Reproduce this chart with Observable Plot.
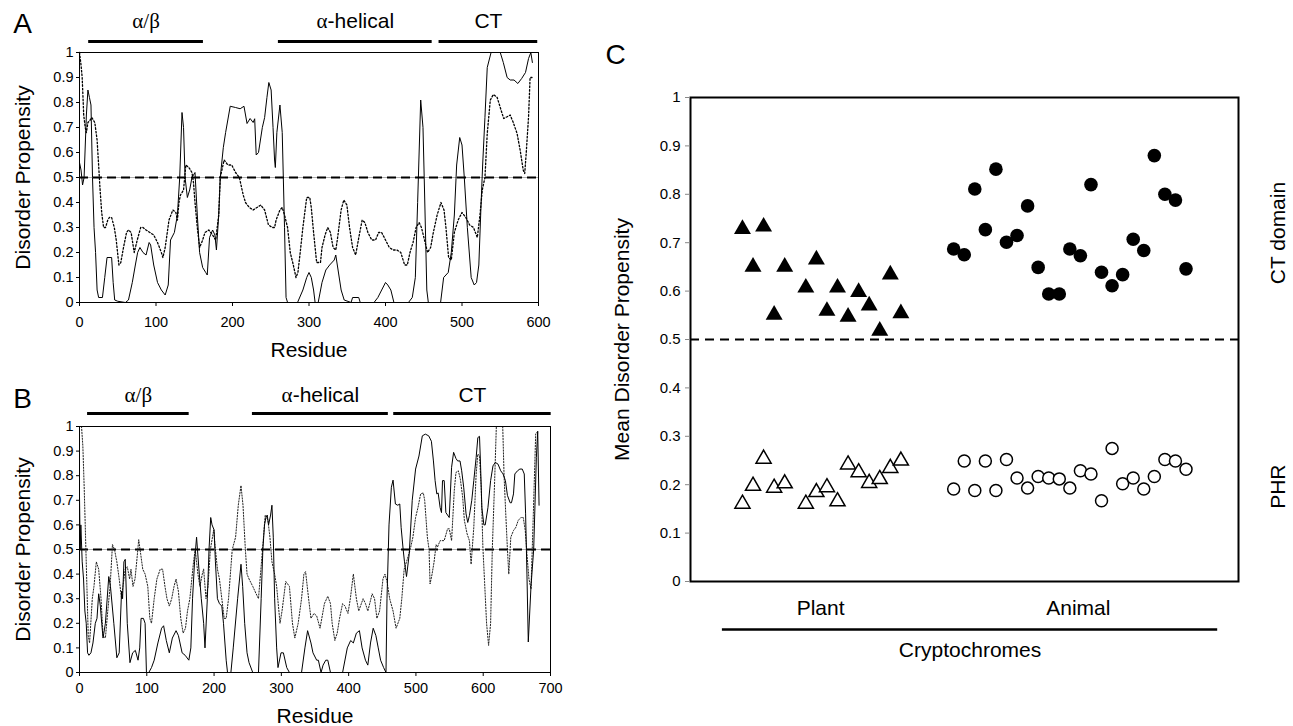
<!DOCTYPE html>
<html><head><meta charset="utf-8">
<script src="https://cdn.jsdelivr.net/npm/d3@7"></script>
<script src="https://cdn.jsdelivr.net/npm/@observablehq/plot@0.6"></script>
<style>
body{margin:0;background:#fff;}
#chart{position:relative;width:1293px;height:726px;overflow:hidden;background:#fff;}
#chart svg{position:absolute;}
</style></head><body><div id="chart"></div>
<script>
// ---------- Panel A data: [residue, disorder propensity] ----------
const aSolid = [[0,0.56],[2,0.53],[4,0.47],[6,0.5],[9,0.75],[11,0.85],[13,0.82],[15,0.79],[17,0.5],[19,0.3],[21,0.2],[23,0.05],[25,0.02],[30,0.02],[33,0.1],[36,0.18],[42,0.18],[44,0.08],[46,0.01],[50,0.005],[60,0],[64,0.01],[69,0.08],[73,0.15],[76,0.2],[79,0.22],[83,0.2],[87,0.19],[91,0.24],[93,0.23],[97,0.15],[102,0.08],[107,0.05],[112,0.03],[116,0.07],[119,0.25],[124,0.28],[128,0.35],[131,0.5],[134,0.76],[136,0.7],[138,0.5],[141,0.42],[144,0.45],[147,0.5],[151,0.52],[154,0.35],[157,0.2],[161,0.14],[165,0.12],[167,0.11],[170,0.26],[174,0.29],[177,0.27],[179,0.21],[182,0.35],[184,0.5],[188,0.62],[191,0.68],[197,0.785],[204,0.78],[210,0.775],[215,0.785],[219,0.716],[223,0.736],[227,0.72],[229,0.735],[231,0.59],[234,0.6],[239,0.7],[242,0.74],[245,0.82],[247.5,0.88],[250.5,0.85],[253,0.7],[255,0.57],[256,0.54],[258,0.68],[262,0.79],[265,0.68],[268,0.3],[270,0.02],[272,0],[285,0],[292,0.05],[297,0.1],[300,0.12],[303,0.1],[306,0.05],[308,0],[312,0],[317,0.08],[322,0.13],[327,0.15],[333,0.17],[335,0.19],[337,0.15],[342,0.05],[346,0.01],[355,0],[357,0.02],[365,0.02],[367,0],[385,0],[390,0.02],[395,0.05],[400,0.08],[403,0.07],[407,0.05],[411,0],[430,0],[435,0.02],[439,0.1],[442,0.4],[446,0.81],[449,0.7],[451,0.45],[454,0.05],[456,0],[472,0],[476,0.1],[482,0.12],[486,0.2],[490,0.35],[493,0.55],[497,0.66],[500,0.63],[503,0.5],[507,0.3],[512,0.1],[516,0.07],[519,0.08],[522,0.15],[525,0.4],[527,0.55],[530,0.74],[533,0.94],[538,1.0],[550,1.0],[554,0.96],[559,0.9],[563,0.89],[568,0.89],[573,0.876],[578,0.896],[583,0.92],[587,0.976],[590,1.0],[592,0.96]];
const aDotted = [[0,1.0],[2,0.95],[3.5,0.9],[5.5,0.75],[7.5,0.7],[9,0.68],[11,0.72],[14,0.73],[16,0.74],[20,0.72],[23,0.65],[25,0.55],[26.5,0.47],[29,0.36],[31.5,0.3],[34,0.3],[37,0.33],[39,0.34],[42,0.34],[45.5,0.3],[48,0.25],[51.5,0.15],[54,0.16],[57.5,0.22],[61.5,0.28],[64,0.29],[67.5,0.28],[71.5,0.2],[75.5,0.25],[80,0.3],[83,0.3],[87,0.29],[92,0.28],[97,0.27],[102,0.24],[107,0.2],[109,0.18],[112,0.22],[117,0.33],[122,0.37],[126,0.36],[128,0.33],[130,0.4],[132,0.43],[136,0.45],[139,0.55],[143,0.54],[147,0.52],[149,0.48],[151,0.4],[154,0.3],[157,0.22],[161,0.25],[164,0.28],[169,0.29],[174,0.27],[178,0.25],[182,0.35],[184,0.5],[189,0.57],[194,0.55],[199,0.55],[204,0.52],[209,0.5],[214,0.43],[217,0.4],[222,0.38],[227,0.37],[232,0.38],[237,0.39],[242,0.37],[247,0.31],[252,0.3],[255,0.3],[257,0.33],[262,0.37],[265,0.38],[268,0.35],[272,0.3],[275.5,0.2],[279.5,0.15],[283,0.1],[285.5,0.12],[288.5,0.2],[292,0.3],[297,0.42],[301,0.42],[303,0.38],[306,0.28],[310,0.16],[315,0.16],[317,0.22],[321,0.27],[324.5,0.3],[328,0.28],[331.5,0.22],[335,0.21],[337,0.25],[342,0.37],[345.5,0.41],[349.5,0.39],[353,0.3],[357,0.22],[361,0.19],[364.5,0.25],[369.5,0.33],[373,0.32],[377,0.28],[382,0.25],[387,0.25],[391,0.28],[395,0.28],[400,0.25],[405,0.22],[410,0.21],[415,0.21],[420,0.2],[425,0.15],[428.5,0.15],[432,0.2],[436,0.24],[440,0.3],[444,0.32],[447,0.3],[451,0.25],[455,0.2],[459,0.22],[462.5,0.28],[467.5,0.35],[472.5,0.4],[476.5,0.37],[479,0.3],[482.5,0.18],[486,0.17],[490,0.28],[495,0.33],[500,0.36],[505,0.34],[510,0.31],[515,0.3],[520,0.26],[523.5,0.35],[526.5,0.45],[530,0.5],[533,0.676],[537,0.81],[541,0.832],[546,0.82],[550,0.78],[554.5,0.736],[559,0.743],[563,0.75],[567.5,0.716],[572,0.676],[576,0.61],[580,0.53],[582,0.516],[584,0.6],[587,0.743],[589,0.9],[591.5,0.9]];

// ---------- Panel B data ----------
const bSolid = [[0,0.72],[1,0.5],[2,0.6],[4,0.45],[6,0.38],[8,0.25],[10,0.2],[12,0.08],[14,0.07],[17,0.08],[20,0.12],[23.5,0.2],[26,0.22],[28.5,0.32],[31,0.27],[33,0.2],[35,0.14],[38.5,0.2],[43.5,0.39],[46,0.35],[51,0.2],[55.5,0.06],[59,0.08],[62.5,0.33],[64,0.3],[66,0.45],[68,0.46],[71,0.2],[75,0.04],[79,0.08],[83,0.09],[87,0.05],[89.5,0.1],[91.5,0.22],[95,0.22],[97.5,0.2],[99.5,0],[103,0],[107,0.02],[111,0.05],[116.5,0.12],[122,0.18],[125,0.19],[129,0.13],[133.5,0.08],[138,0.14],[143.5,0.17],[147,0.15],[152.5,0.08],[157,0.07],[162.5,0.05],[165.5,0.1],[168,0.3],[171,0.45],[174,0.55],[177.5,0.42],[181,0.3],[184.5,0.2],[186.5,0.1],[190,0.3],[192.5,0.5],[195,0.63],[197,0.6],[200,0.58],[202,0.45],[205,0.3],[208,0.28],[211.5,0.27],[214,0.2],[218,0.05],[220,0],[225,0],[228.5,0.1],[235,0.3],[240,0.44],[242.5,0.35],[245.5,0.2],[249,0.08],[252,0.04],[257.5,0],[266,0],[270,0.3],[272.5,0.5],[275,0.6],[277,0.63],[279,0.64],[281,0.6],[284,0.64],[286,0.68],[288,0.55],[290,0.3],[293,0.1],[295,0.02],[299.5,0.08],[303,0.08],[308,0.02],[312,0],[330,0],[335,0.1],[339,0.17],[344,0.12],[347,0.08],[352.5,0.05],[355,0.05],[359,0],[362,0.03],[366,0.05],[369,0.05],[373,0],[391,0],[398,0.1],[403,0.13],[407,0.12],[411.5,0.16],[416,0.17],[420,0.1],[425,0.05],[428.5,0.03],[432.5,0.12],[436.5,0.18],[440.5,0.15],[444,0.1],[447.5,0.05],[452,0.02],[455.5,0],[457,0.3],[460,0.6],[463.5,0.753],[466,0.782],[469.5,0.685],[473,0.68],[476,0.685],[478,0.59],[481,0.5],[483,0.45],[486,0.39],[490,0.48],[494.5,0.7],[499.5,0.827],[504.5,0.88],[509.5,0.962],[514,0.969],[519,0.962],[523,0.94],[526,0.86],[528.5,0.78],[531,0.726],[533,0.73],[536,0.67],[538,0.65],[539.5,0.78],[542,0.78],[544.5,0.65],[549.5,0.63],[553,0.834],[556,0.895],[559.5,0.87],[562,0.86],[565.5,0.86],[568,0.82],[571,0.753],[574.5,0.645],[577,0.61],[579.5,0.638],[583,0.7],[586,0.78],[589.5,0.874],[592,0.955],[594.5,0.96],[596,0.847],[598,0.67],[601,0.6],[603,0.6],[607,0.67],[611,0.78],[614.5,0.84],[618,0.854],[622,0.847],[626,0.82],[629.5,0.807],[633,0.78],[636,0.72],[640,0.69],[642,0.69],[645,0.726],[647,0.807],[651,0.82],[654.5,0.827],[658,0.827],[661,0.807],[663,0.645],[665,0.4],[667,0.124],[671,0.35],[675,0.5],[679,0.874],[681,0.98],[683,0.68]];
const bDotted = [[3,1.0],[5,0.92],[7,0.75],[9,0.55],[11,0.35],[13,0.15],[15,0.12],[19,0.3],[21.5,0.35],[25,0.45],[28.5,0.42],[32,0.3],[35,0.15],[38.5,0.14],[42,0.25],[45.5,0.35],[49,0.52],[52,0.5],[55.5,0.45],[59,0.38],[62.5,0.3],[64.5,0.35],[68,0.42],[71,0.43],[74.5,0.38],[76.5,0.42],[79.5,0.35],[82.5,0.38],[85,0.45],[88,0.54],[91,0.48],[94,0.42],[97.5,0.4],[101.5,0.35],[104.5,0.22],[107,0.2],[111,0.3],[115,0.38],[120,0.42],[123.5,0.42],[127,0.35],[130,0.3],[133.5,0.27],[137,0.3],[140.5,0.35],[143.5,0.38],[147,0.33],[150.5,0.22],[154,0.16],[157.5,0.18],[160.5,0.25],[164,0.3],[169.5,0.45],[172,0.5],[176,0.4],[179,0.35],[182.5,0.4],[184.5,0.42],[188,0.3],[191,0.35],[194.5,0.5],[199.5,0.58],[202,0.5],[205,0.42],[208,0.38],[211.5,0.3],[215,0.22],[218,0.22],[221.5,0.3],[227,0.5],[232,0.55],[236,0.68],[240,0.76],[243,0.68],[246.5,0.5],[249,0.4],[252,0.38],[257.5,0.35],[262.5,0.32],[266,0.3],[269,0.4],[272,0.5],[276,0.64],[280,0.62],[283,0.55],[286,0.45],[290,0.4],[293,0.35],[298,0.2],[301,0.25],[306.5,0.37],[312,0.35],[316.5,0.2],[320,0.14],[325,0.2],[330,0.3],[333.5,0.4],[336,0.41],[340.5,0.3],[344,0.22],[348.5,0.24],[352.5,0.23],[357.5,0.18],[364,0.28],[369,0.31],[373,0.28],[375.5,0.2],[379.5,0.13],[383,0.16],[386.5,0.22],[391,0.28],[394.5,0.27],[399,0.24],[402.5,0.3],[407,0.4],[411.5,0.3],[415,0.25],[421.5,0.3],[425,0.28],[428.5,0.25],[435,0.32],[438.5,0.3],[442,0.22],[446,0.25],[451,0.38],[454,0.4],[457,0.37],[461,0.3],[466,0.25],[470.5,0.18],[476,0.22],[479,0.3],[482.5,0.42],[486,0.45],[491.5,0.5],[495.5,0.55],[499.5,0.63],[503,0.67],[507,0.726],[511,0.73],[513,0.7],[517,0.55],[519.5,0.5],[521,0.36],[524,0.4],[527,0.45],[530,0.52],[532,0.51],[536,0.536],[542,0.536],[547,0.584],[549.5,0.584],[553,0.536],[557,0.74],[559.5,0.813],[563,0.82],[566,0.786],[569.5,0.712],[572,0.618],[576,0.564],[579.5,0.536],[582,0.44],[586,0.59],[589.5,0.807],[592,0.888],[594.5,0.88],[597,0.753],[599.5,0.51],[602,0.37],[605,0.2],[608,0.11],[611,0.2],[613.5,0.5],[617,0.78],[619.5,1.0],[629,1.0],[631,0.8],[633.5,0.645],[636,0.5],[638,0.4],[641,0.55],[645,0.577],[648.5,0.59],[652,0.618],[656,0.63],[659.5,0.63],[662.5,0.577],[665,0.48],[668,0.38],[671,0.34],[674,0.6],[678,0.97],[681,0.98]];

// ---------- Domain regions ----------
const regionNames = ["α/β", "α-helical", "CT"];
const aRegionStart = [12, 260, 470];
const aRegionEnd = [162, 461, 599];
const bRegionStart = [12, 257, 467];
const bRegionEnd = [163, 459, 701];

// ---------- Panel C data ----------
const plantSlot = [0,1,2,3,4,6,7,8,9,10,11,12,13,14,15];
const plantCT  = [0.733,0.655,0.738,0.556,0.655,0.612,0.67,0.564,0.612,0.552,0.603,0.575,0.523,0.639,0.559];
const plantPHR = [0.165,0.202,0.258,0.198,0.207,0.165,0.189,0.199,0.170,0.246,0.230,0.208,0.216,0.239,0.254];
const animalSlot = [20,21,22,23,24,25,26,27,28,29,30,31,32,33,34,35,36,37,38,39,40,41,42];
const animalCT  = [0.687,0.675,0.811,0.727,0.852,0.701,0.715,0.776,0.649,0.594,0.594,0.687,0.673,0.820,0.639,0.611,0.634,0.707,0.684,0.880,0.800,0.788,0.646];
const animalPHR = [0.191,0.249,0.188,0.249,0.188,0.252,0.214,0.193,0.217,0.214,0.212,0.193,0.229,0.222,0.167,0.275,0.202,0.214,0.191,0.217,0.252,0.249,0.232];
const groupNames = ["Plant", "Animal"];
const groupCenter = [7.4, 31.8];
const bracketStart = -1.9, bracketEnd = 45.0;
const sideLabels = ["CT domain", "PHR"];
const sideLabelY = [0.72, 0.196];

// ---------- Ticks ----------
const yTicks = [0,0.1,0.2,0.3,0.4,0.5,0.6,0.7,0.8,0.9,1];
const aXTicks = [0,100,200,300,400,500,600];
const bXTicks = [0,100,200,300,400,500,600,700];

const FONT = '"Liberation Sans", Arial, sans-serif';
const fmt = d3.format("~g");
const X = d => d[0], Y = d => d[1];
const TXT = d => d;

function profilePanel(cfg) {
  return Plot.plot({
    width: cfg.width, height: cfg.height,
    marginLeft: 79, marginRight: cfg.mr, marginTop: cfg.mt, marginBottom: cfg.mb,
    x: {domain: [0, cfg.xMax]},
    y: {domain: [0, 1]},
    style: {fontFamily: FONT, fontSize: "14.5px", background: "transparent", color: "#000", overflow: "visible"},
    marks: [
      Plot.ruleY([0.5], {stroke: "#999", strokeWidth: 0.8}),
      Plot.ruleY([0.5], {stroke: "#000", strokeWidth: 2, strokeDasharray: "9,5"}),
      Plot.line(cfg.dotted, {x: X, y: Y, stroke: cfg.dotColor, strokeWidth: cfg.dotWidth, strokeDasharray: cfg.dash}),
      Plot.line(cfg.solid, {x: X, y: Y, stroke: "#000", strokeWidth: 1}),
      Plot.frame({stroke: "#000", strokeWidth: 1}),
      Plot.axisY({ticks: yTicks, tickFormat: fmt, tickSize: 3, tickPadding: 3, label: null}),
      Plot.axisX({ticks: cfg.xTicks, tickSize: 4, tickPadding: cfg.xPad, label: null}),
      Plot.ruleY(regionNames, {x1: (d, i) => cfg.rs[i], x2: (d, i) => cfg.re[i], y: () => 1, dy: cfg.barDy, stroke: "#000", strokeWidth: 3}),
      Plot.text(regionNames, {x: (d, i) => (cfg.rs[i] + cfg.re[i]) / 2, y: () => 1, dy: cfg.labDy, text: TXT, fontSize: 21}),
      Plot.text([cfg.letter], {frameAnchor: "top-left", dx: -57, dy: cfg.letterDy, text: TXT, fontSize: 28, textAnchor: "middle", lineAnchor: "middle"}),
      Plot.text(["Disorder Propensity"], {frameAnchor: "left", dx: -56, rotate: -90, text: TXT, fontSize: 21, textAnchor: "middle", lineAnchor: "middle"}),
      Plot.text(["Residue"], {frameAnchor: "bottom", dy: cfg.titleDy, text: TXT, fontSize: 21, textAnchor: "middle", lineAnchor: "middle"})
    ]
  });
}

const svgA = profilePanel({
  width: 590, height: 365, mr: 52, mt: 52, mb: 63, xMax: 600, xTicks: aXTicks,
  solid: aSolid, dotted: aDotted, dotColor: "#000", dotWidth: 1.3, dash: "1.6,2",
  rs: aRegionStart, re: aRegionEnd, barDy: -11, labDy: -31, letter: "A", letterDy: -28,
  xPad: 10, titleDy: 48
});
const svgB = profilePanel({
  width: 590, height: 356, mr: 40, mt: 56, mb: 54, xMax: 700, xTicks: bXTicks,
  solid: bSolid, dotted: bDotted, dotColor: "#222", dotWidth: 1, dash: "1.3,1.6",
  rs: bRegionStart, re: bRegionEnd, barDy: -13, labDy: -31, letter: "B", letterDy: -27,
  xPad: 6, titleDy: 44
});

const svgC = Plot.plot({
  width: 703, height: 726,
  marginLeft: 100, marginRight: 55, marginTop: 97, marginBottom: 145,
  x: {domain: [-4.92, 46.97], axis: null},
  y: {domain: [0, 1]},
  style: {fontFamily: FONT, fontSize: "15px", background: "transparent", color: "#000", overflow: "visible"},
  marks: [
    Plot.ruleY([0.5], {stroke: "#000", strokeWidth: 2, strokeDasharray: "9,6"}),
    Plot.frame({stroke: "#000", strokeWidth: 2}),
    Plot.axisY({ticks: yTicks, tickFormat: fmt, tickSize: 5, tickPadding: 5, label: null, stroke: "#888", fill: "#000"}),
    Plot.dot(plantCT, {x: (d, i) => plantSlot[i], y: d => d, symbol: "triangle", r: 6.3, fill: "#000", stroke: "none", dy: 2.4}),
    Plot.dot(plantPHR, {x: (d, i) => plantSlot[i], y: d => d, symbol: "triangle", r: 5.6, fill: "#fff", stroke: "#000", strokeWidth: 1.5, dy: 2.2}),
    Plot.dot(animalCT, {x: (d, i) => animalSlot[i], y: d => d, symbol: "circle", r: 6.8, fill: "#000", stroke: "none"}),
    Plot.dot(animalPHR, {x: (d, i) => animalSlot[i], y: d => d, symbol: "circle", r: 6, fill: "#fff", stroke: "#000", strokeWidth: 1.5}),
    Plot.text(groupNames, {x: (d, i) => groupCenter[i], frameAnchor: "bottom", dy: 27, text: TXT, fontSize: 21, lineAnchor: "middle"}),
    Plot.ruleY(["Cryptochromes"], {x1: () => bracketStart, x2: () => bracketEnd, y: () => 0, dy: 48, stroke: "#000", strokeWidth: 2.5}),
    Plot.text(["Cryptochromes"], {x: () => (bracketStart + bracketEnd) / 2, frameAnchor: "bottom", dy: 69, text: TXT, fontSize: 21, lineAnchor: "middle"}),
    Plot.text(sideLabels, {y: (d, i) => sideLabelY[i], frameAnchor: "right", dx: 40, rotate: -90, text: TXT, fontSize: 21, textAnchor: "middle", lineAnchor: "middle"}),
    Plot.text(["Mean Disorder Propensity"], {frameAnchor: "left", dx: -68, rotate: -90, text: TXT, fontSize: 21, textAnchor: "middle", lineAnchor: "middle"}),
    Plot.text(["C"], {frameAnchor: "top-left", dx: -75, dy: -42, text: TXT, fontSize: 28, textAnchor: "middle", lineAnchor: "middle"})
  ]
});

// Greek letters in a serif face, as in the original
function serifGreek(svg) {
  const NS = "http://www.w3.org/2000/svg";
  svg.querySelectorAll("text").forEach(t => {
    const s = t.textContent;
    if (!/[αβ]/.test(s) || t.children.length) return;
    t.textContent = "";
    const parts = s.match(/[αβ\/]+|[^αβ\/]+/g);
    parts.forEach(p => {
      const ts = document.createElementNS(NS, "tspan");
      ts.textContent = p;
      if (/[αβ]/.test(p)) ts.setAttribute("font-family", '"Liberation Serif", "Times New Roman", serif');
      t.appendChild(ts);
    });
  });
}
serifGreek(svgA); serifGreek(svgB);

const chart = document.getElementById("chart");
svgA.style.left = "0px"; svgA.style.top = "0px";
svgB.style.left = "0px"; svgB.style.top = "370px";
svgC.style.left = "590px"; svgC.style.top = "0px";
chart.appendChild(svgA); chart.appendChild(svgB); chart.appendChild(svgC);
</script>
</body></html>
